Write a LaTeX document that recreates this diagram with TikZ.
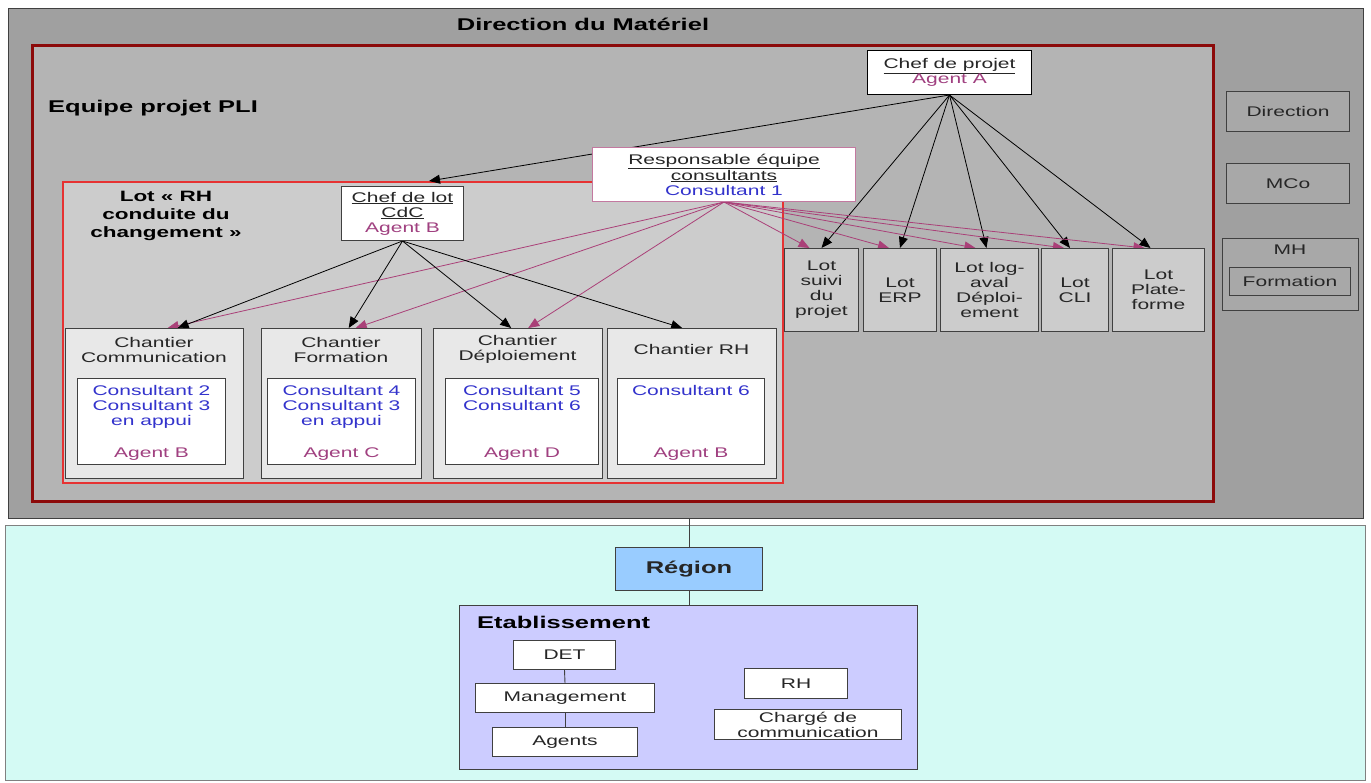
\documentclass[tikz,border=0pt]{standalone}
\usepackage{fontspec}
\setmainfont{Liberation Sans}[FakeStretch=1.5]
\usetikzlibrary{arrows.meta}
\usepackage{xcolor}

\definecolor{agentpurple}{RGB}{160,64,128}
\definecolor{consblue}{RGB}{51,51,204}
\definecolor{linkpink}{RGB}{170,64,120}
\definecolor{darkframe}{RGB}{64,64,64}
\definecolor{dirgray}{RGB}{160,160,160}
\definecolor{sidegray}{RGB}{168,168,168}
\definecolor{pligray}{RGB}{180,180,180}
\definecolor{lotgray}{RGB}{204,204,204}
\definecolor{chantgray}{RGB}{232,232,232}
\definecolor{plired}{RGB}{140,10,10}
\definecolor{lotred}{RGB}{230,50,50}
\definecolor{regioncyan}{RGB}{212,250,244}
\definecolor{regionblue}{RGB}{153,204,255}
\definecolor{etabviolet}{RGB}{204,204,255}

\pgfdeclarelayer{zones}
\pgfdeclarelayer{links}
\pgfsetlayers{zones,links,main}

\begin{document}
\begin{tikzpicture}[
    x=1pt, y=-1pt,
    txt/.style={font=\fontsize{14}{15}\selectfont, align=center, inner sep=0pt, text=black!85},
    box/.style={draw=darkframe, line width=1pt, fill=#1, anchor=north west, inner sep=0pt, font=\fontsize{14}{15}\selectfont, align=center, text=black!85},
    box/.default={white},
    zone/.style={draw=#1, anchor=north west, inner sep=0pt},
    headline/.style={font=\bfseries\fontsize{17}{20}\selectfont, inner sep=0pt},
    arr/.style={-{Triangle[length=11pt,width=9pt]}, line width=0.8pt, #1},
    arr/.default={black},
    joinline/.style={line width=0.9pt, darkframe},
]
\useasboundingbox (0,0) rectangle (1371,782);

% ===== ZONES =====
\begin{pgfonlayer}{zones}
\node[zone=darkframe, fill=dirgray, line width=1pt, minimum width=1355pt, minimum height=510pt] (dirmat) at (8,8) {};
\node[zone=gray, fill=regioncyan, line width=1pt, minimum width=1360pt, minimum height=255pt] (regzone) at (5,525) {};
\node[zone=plired, fill=pligray, line width=3pt, minimum width=1181pt, minimum height=456pt] (pli) at (31,44) {};
\node[zone=lotred, fill=lotgray, line width=2pt, minimum width=720pt, minimum height=301pt] (lotrh) at (62,181) {};
\node[zone=darkframe, fill=etabviolet, line width=1pt, minimum width=458pt, minimum height=164pt] (etab) at (459,605) {};
\end{pgfonlayer}

\node[headline] (dirmattitle) at (583,24) {Direction du Matériel};
\node[headline, anchor=west] (plititle) at (48,108) {Equipe projet PLI};
\node[font=\bfseries\fontsize{15}{18}\selectfont, align=center, inner sep=0pt] (lotrhtitle) at (166,216) {Lot « RH\\conduite du\\changement »};

% ===== PILOTAGE =====
\node[box, draw=black, minimum width=164pt, minimum height=44pt] (chefprojet) at (867,50) {\underline{Chef de projet}\\\textcolor{agentpurple}{Agent A}};
\node[box, draw=linkpink!70, minimum width=263pt, minimum height=54pt] (respcons) at (592,147) {\underline{Responsable équipe}\\\underline{consultants}\\\textcolor{consblue}{Consultant 1}};
\node[box, minimum width=122pt, minimum height=54pt] (chefdelot) at (341,186) {\underline{Chef de lot}\\\underline{CdC}\\\textcolor{agentpurple}{Agent B}};

% ===== CHANTIERS =====
\node[box=chantgray, line width=1.4pt, minimum width=178pt, minimum height=150pt] (chcomm) at (65,328) {};
\node[txt] (chcommtitle) at (154,349.5) {Chantier\\Communication};
\node[box, minimum width=148pt, minimum height=86pt] (chcommin) at (77,378) {};
\node[txt, text=consblue, anchor=north] (chcommcons) at ([yshift=-7pt]chcommin.north) {Consultant 2\\Consultant 3\\en appui};
\node[txt, text=agentpurple, anchor=base] (chcommagent) at ([yshift=8pt]chcommin.south) {Agent B};

\node[box=chantgray, line width=1.4pt, minimum width=160pt, minimum height=150pt] (chform) at (261,328) {};
\node[txt] (chformtitle) at (341,349.5) {Chantier\\Formation};
\node[box, minimum width=148pt, minimum height=86pt] (chformin) at (267,378) {};
\node[txt, text=consblue, anchor=north] (chformcons) at ([yshift=-7pt]chformin.north) {Consultant 4\\Consultant 3\\en appui};
\node[txt, text=agentpurple, anchor=base] (chformagent) at ([yshift=8pt]chformin.south) {Agent C};

\node[box=chantgray, line width=1.4pt, minimum width=169pt, minimum height=150pt] (chdepl) at (433,328) {};
\node[txt] (chdepltitle) at (517.5,349.5) {Chantier\\Déploiement};
\node[box, minimum width=153pt, minimum height=86pt] (chdeplin) at (445,378) {};
\node[txt, text=consblue, anchor=north] (chdeplcons) at ([yshift=-7pt]chdeplin.north) {Consultant 5\\Consultant 6};
\node[txt, text=agentpurple, anchor=base] (chdeplagent) at ([yshift=8pt]chdeplin.south) {Agent D};

\node[box=chantgray, line width=1.4pt, minimum width=169pt, minimum height=150pt] (chrh) at (607,328) {};
\node[txt] (chrhtitle) at (691.5,349.5) {Chantier RH};
\node[box, minimum width=147pt, minimum height=86pt] (chrhin) at (617,378) {};
\node[txt, text=consblue, anchor=north] (chrhcons) at ([yshift=-7pt]chrhin.north) {Consultant 6};
\node[txt, text=agentpurple, anchor=base] (chrhagent) at ([yshift=8pt]chrhin.south) {Agent B};

% ===== LOTS =====
\node[box=lotgray, minimum width=74pt, minimum height=83pt] (lotsuivi) at (784,248) {Lot\\suivi\\du\\projet};
\node[box=lotgray, minimum width=73pt, minimum height=83pt] (loterp) at (863,248) {Lot\\ERP};
\node[box=lotgray, minimum width=98pt, minimum height=83pt] (lotlog) at (940,248) {Lot log-\\aval\\Déploi-\\ement};
\node[box=lotgray, minimum width=67pt, minimum height=83pt] (lotcli) at (1041,248) {Lot\\CLI};
\node[box=lotgray, minimum width=92pt, minimum height=83pt] (lotplate) at (1112,248) {Lot\\Plate-\\forme};

% ===== DIRECTIONS =====
\node[box=sidegray, minimum width=123pt, minimum height=40pt] (direction) at (1226,91) {Direction};
\node[box=sidegray, minimum width=123pt, minimum height=40pt] (mco) at (1226,163) {MCo};
\node[box=sidegray, minimum width=136pt, minimum height=72pt] (mh) at (1222,238) {};
\node[txt] (mhtitle) at (1290,250) {MH};
\node[box=sidegray, minimum width=121pt, minimum height=28pt] (formation) at (1229,267) {Formation};

% ===== REGION =====
\node[box=regionblue, minimum width=147pt, minimum height=43pt, font=\bfseries\fontsize{17}{20}\selectfont] (region) at (615,547) {Région};
\node[headline, anchor=west] (etabtitle) at (477,622) {Etablissement};
\node[box, minimum width=102pt, minimum height=29pt] (det) at (513,640) {DET};
\node[box, minimum width=179pt, minimum height=29pt] (mgmt) at (475,683) {Management};
\node[box, minimum width=145pt, minimum height=29pt] (agents) at (492,727) {Agents};
\node[box, minimum width=103pt, minimum height=30pt] (rh) at (744,668) {RH};
\node[box, minimum width=187pt, minimum height=30pt] (charge) at (714,709) {Chargé de\\communication};

% ===== ARROWS =====
\begin{pgfonlayer}{links}
\draw[arr] (chefprojet.south) -- ([xshift=6pt]lotrh.north);
\draw[arr] (chefprojet.south) -- (lotsuivi.north);
\draw[arr] (chefprojet.south) -- (loterp.north);
\draw[arr] (chefprojet.south) -- ([xshift=-3pt]lotlog.north);
\draw[arr] (chefprojet.south) -- ([xshift=-5pt]lotcli.north);
\draw[arr] (chefprojet.south) -- ([xshift=-8pt]lotplate.north);
\draw[arr=linkpink] (respcons.south) -- ([xshift=-12pt]lotsuivi.north);
\draw[arr=linkpink] (respcons.south) -- ([xshift=-11pt]loterp.north);
\draw[arr=linkpink] (respcons.south) -- ([xshift=-14pt]lotlog.north);
\draw[arr=linkpink] (respcons.south) -- ([xshift=-11pt]lotcli.north);
\draw[arr=linkpink] (respcons.south) -- ([xshift=-14pt]lotplate.north);
\draw[arr=linkpink] (respcons.south) -- ([xshift=13pt]chcomm.north);
\draw[arr=linkpink] (respcons.south) -- ([xshift=14pt]chform.north);
\draw[arr=linkpink] (respcons.south) -- ([xshift=10pt]chdepl.north);
\draw[arr] (chefdelot.south) -- ([xshift=23pt]chcomm.north);
\draw[arr] (chefdelot.south) -- ([xshift=7pt]chform.north);
\draw[arr] (chefdelot.south) -- ([xshift=-7pt]chdepl.north);
\draw[arr] (chefdelot.south) -- ([xshift=-10pt]chrh.north);
\draw[joinline] (region.north) -- (region.north |- dirmat.south);
\draw[joinline] (region.south) -- (region.south |- etab.north);
\draw[joinline] (det.south) -- (mgmt.north);
\draw[joinline] (mgmt.south) -- (agents.north);
\end{pgfonlayer}

\end{tikzpicture}
\end{document}
